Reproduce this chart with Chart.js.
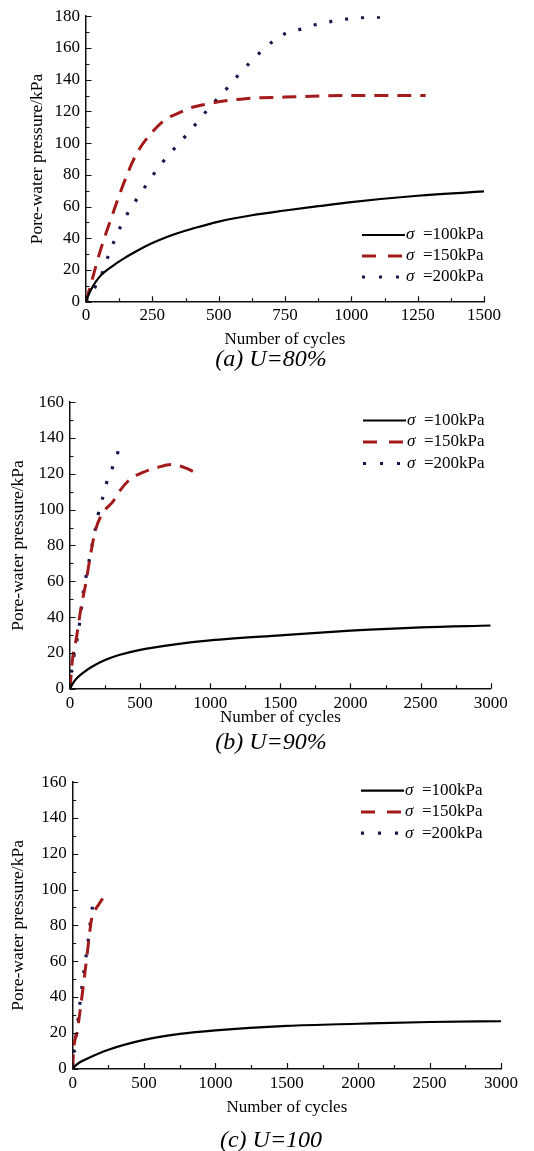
<!DOCTYPE html>
<html>
<head>
<meta charset="utf-8">
<script src="https://cdn.jsdelivr.net/npm/chart.js"></script>
<style>
  body { margin: 0; background: #fff; width: 534px; height: 1151px; position: relative; overflow: hidden; }
  .panel { position: absolute; left: 0; }
  .panel canvas { display: block; }
  .caption { position: absolute; left: 0; width: 542px; text-align: center; color: #000;
    font-family: "Liberation Serif", "Times New Roman", serif; font-style: italic; font-size: 24px; line-height: 28px; }
</style>
</head>
<body>
<div class="panel" style="top:0px"><canvas id="chartA" width="534" height="352"></canvas></div>
<div class="caption" style="top:344px">(a) U=80%</div>
<div class="panel" style="top:386px"><canvas id="chartB" width="534" height="344"></canvas></div>
<div class="caption" style="top:727px">(b) U=90%</div>
<div class="panel" style="top:766px"><canvas id="chartC" width="534" height="354"></canvas></div>
<div class="caption" style="top:1125px">(c) U=100</div>
<script>
// confining pressures of the three tests (kPa)
const stresses = [100, 150, 200];

// ---- (a) U=80% ----
const ticksAx = [0, 250, 500, 750, 1000, 1250, 1500];
const ticksAy = [0, 20, 40, 60, 80, 100, 120, 140, 160, 180];
const cycA100 = [0, 10, 25, 50, 100, 150, 200, 250, 300, 350, 400, 500, 625, 750, 875, 1000, 1250, 1500];
const valA100 = [0, 4.5, 9.4, 15.5, 22.5, 28, 32.8, 37, 40.5, 43.5, 46, 50.5, 54.5, 57.5, 60.2, 62.8, 66.8, 69.5];
const cycA150 = [0, 10, 25, 50, 75, 100, 125, 150, 175, 200, 250, 300, 350, 400, 450, 500, 600, 750, 1000, 1280];
const valA150 = [0, 6, 15, 30, 43, 55, 67, 78, 88, 96, 107, 115, 119, 122.5, 124.5, 126, 128, 129, 130, 130];
const cycA200 = [0, 30, 63, 82, 107, 134, 167, 205, 245, 289, 335, 386, 433, 484, 534, 580, 631, 688, 750, 814, 873, 936, 996, 1055, 1118];
const valA200 = [0, 8, 18.8, 28, 38.6, 48.6, 58.5, 68, 78, 88, 97, 106.5, 116, 126, 135, 144, 153, 162, 169, 172, 175, 177, 178.5, 179.3, 179.5];

// ---- (b) U=90% ----
const ticksBx = [0, 500, 1000, 1500, 2000, 2500, 3000];
const ticksBy = [0, 20, 40, 60, 80, 100, 120, 140, 160];
const cycB100 = [0, 25, 50, 100, 150, 250, 350, 500, 750, 1000, 1500, 2000, 2500, 3000];
const valB100 = [0, 3.5, 6, 9.3, 12, 16, 18.8, 21.7, 24.8, 27, 29.8, 32.4, 34.3, 35.3];
const cycB150 = [0, 17, 47, 76, 112, 147, 183, 230, 309, 345, 428, 511, 630, 725, 832, 927];
const valB150 = [0, 15.8, 29, 44, 58.6, 75, 89, 97.7, 104.8, 109.4, 117, 120.5, 123.7, 125.2, 123, 119.3];
const cycB200 = [0, 10, 47, 76, 95, 128, 159, 183, 200, 231, 261, 302, 345];
const valB200 = [0, 9.3, 26, 41, 54, 68, 81, 90, 97, 106, 115, 123.3, 132.8];

// ---- (c) U=100 ----
const ticksCx = [0, 500, 1000, 1500, 2000, 2500, 3000];
const ticksCy = [0, 20, 40, 60, 80, 100, 120, 140, 160];
const cycC100 = [0, 25, 50, 100, 250, 500, 750, 1000, 1500, 2000, 2500, 3000];
const valC100 = [0, 2, 3.5, 5.5, 10.5, 16, 19.3, 21.3, 23.8, 25, 26, 26.4];
const cycC150 = [0, 7, 30, 53, 77, 100, 116, 133, 160, 185, 210];
const valC150 = [0, 11, 20, 33, 48, 63, 74, 84, 89, 92, 95];
const cycC200 = [0, 7, 30, 53, 80, 107, 133, 156];
const valC200 = [0, 9, 22, 38, 55, 70.5, 87.6, 97];

const FONT = '"Liberation Serif", "Times New Roman", serif';
Chart.defaults.font.family = FONT;
Chart.defaults.color = '#000';

// line looks of the three series: solid black, red dashes, navy dots
const looks = [
  { color: '#000000', width: 2.2, dash: [], legendDash: [] },
  { color: '#a31a1a', width: 3, dash: [14, 9], legendDash: [14, 12] },
  { color: '#16164f', width: 3.2, dash: [3, 13], legendDash: [3, 14] }
];

function pts(xs, ys) {
  return xs.map((x, i) => ({ x: x, y: ys[i] }));
}

// major ticks pointing into the plot, plus one minor tick between each pair
const innerTicks = {
  id: 'innerTicks',
  afterDraw(chart) {
    const ctx = chart.ctx;
    const area = chart.chartArea;
    const sx = chart.scales.x, sy = chart.scales.y;
    ctx.save();
    ctx.strokeStyle = '#111';
    ctx.lineWidth = 1.2;
    ctx.beginPath();
    const mark = (scale, vals, len) => {
      vals.forEach(v => {
        const p = Math.round(scale.getPixelForValue(v)) + 0.5;
        if (scale.axis === 'x') {
          ctx.moveTo(p, area.bottom); ctx.lineTo(p, area.bottom - len);
        } else {
          ctx.moveTo(area.left, p); ctx.lineTo(area.left + len, p);
        }
      });
    };
    [sx, sy].forEach(scale => {
      const major = scale.ticks.map(t => t.value);
      const minor = major.slice(1).map((v, i) => (v + major[i]) / 2);
      mark(scale, major, 5.5);
      mark(scale, minor, 3.5);
    });
    ctx.stroke();
    ctx.restore();
  }
};

// legend drawn inside the plot like the original figure
const sigmaLegend = {
  id: 'sigmaLegend',
  afterDraw(chart, args, opts) {
    const ctx = chart.ctx;
    chart.data.datasets.forEach((ds, i) => {
      const yy = opts.y + i * opts.row;
      const lk = looks[i];
      ctx.save();
      ctx.strokeStyle = lk.color;
      ctx.lineWidth = lk.width;
      ctx.setLineDash(lk.legendDash);
      ctx.beginPath();
      ctx.moveTo(opts.x, yy);
      ctx.lineTo(opts.x + opts.len, yy);
      ctx.stroke();
      ctx.setLineDash([]);
      ctx.fillStyle = '#000';
      ctx.textBaseline = 'middle';
      let tx = opts.x + opts.len + 1;
      ctx.font = 'italic 17px ' + FONT;
      ctx.fillText('σ', tx, yy);
      tx += ctx.measureText('σ').width;
      ctx.font = '17px ' + FONT;
      ctx.fillText(ds.label.slice(1), tx, yy);
      ctx.restore();
    });
  }
};

function makeChart(id, p) {
  const datasets = p.series.map((s, i) => ({
    label: 'σ  =' + stresses[i] + 'kPa',
    data: pts(s[0], s[1]),
    borderColor: looks[i].color,
    borderWidth: looks[i].width,
    borderDash: looks[i].dash,
    pointRadius: 0,
    fill: false,
    cubicInterpolationMode: 'monotone'
  }));
  return new Chart(document.getElementById(id), {
    type: 'line',
    data: { datasets: datasets },
    plugins: [innerTicks, sigmaLegend],
    options: {
      responsive: false,
      animation: false,
      events: [],
      layout: { padding: { top: p.padTop, right: p.padRight, bottom: 0, left: 0 } },
      plugins: {
        legend: { display: false },
        tooltip: { enabled: false },
        sigmaLegend: p.legend
      },
      scales: {
        x: {
          type: 'linear',
          min: p.xTicks[0], max: p.xTicks[p.xTicks.length - 1],
          afterBuildTicks: sc => { sc.ticks = p.xTicks.map(v => ({ value: v })); },
          afterFit: sc => { sc.height = p.xHeight; },
          grid: { display: false, drawTicks: false },
          border: { display: true, color: '#111', width: 1.5 },
          ticks: { padding: p.xPad, maxRotation: 0, autoSkip: false, font: { size: 17 }, color: '#000', callback: v => String(v) },
          title: { display: true, text: 'Number of cycles', font: { size: 17 }, color: '#000', padding: { top: 0, bottom: 1.8 } }
        },
        y: {
          type: 'linear',
          min: p.yTicks[0], max: p.yTicks[p.yTicks.length - 1],
          afterBuildTicks: sc => { sc.ticks = p.yTicks.map(v => ({ value: v })); },
          afterFit: sc => { sc.width = p.yWidth; },
          grid: { display: false, drawTicks: false },
          border: { display: true, color: '#111', width: 1.5 },
          ticks: { padding: 6, autoSkip: false, font: { size: 17 }, color: '#000', callback: v => String(v) },
          title: { display: true, text: 'Pore-water pressure/kPa', font: { size: 17.5 }, color: '#000', padding: { top: p.yTitlePad, bottom: 0 } }
        }
      }
    }
  });
}

makeChart('chartA', {
  series: [[cycA100, valA100], [cycA150, valA150], [cycA200, valA200]],
  xTicks: ticksAx, yTicks: ticksAy,
  padTop: 13.7, padRight: 50, xHeight: 50.3, yWidth: 86, xPad: 3.5, yTitlePad: 26.5,
  legend: { x: 362, y: 235, row: 21, len: 43 }
});

makeChart('chartB', {
  series: [[cycB100, valB100], [cycB150, valB150], [cycB200, valB200]],
  xTicks: ticksBx, yTicks: ticksBy,
  padTop: 14.7, padRight: 43.3, xHeight: 41.3, yWidth: 70, xPad: 4.5, yTitlePad: 7.5,
  legend: { x: 363, y: 34.5, row: 21.5, len: 43 }
});

makeChart('chartC', {
  series: [[cycC100, valC100], [cycC150, valC150], [cycC200, valC200]],
  xTicks: ticksCx, yTicks: ticksCy,
  padTop: 15.7, padRight: 33, xHeight: 51.5, yWidth: 72.7, xPad: 4.5, yTitlePad: 7.5,
  legend: { x: 361, y: 24.7, row: 21.2, len: 43 }
});
</script>
</body>
</html>
